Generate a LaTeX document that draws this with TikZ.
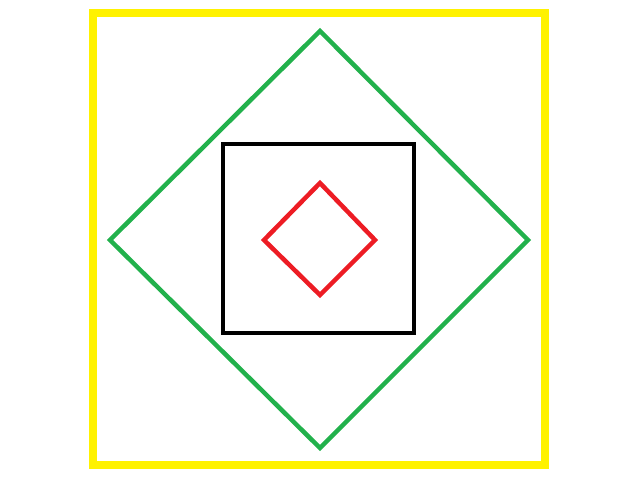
\documentclass[tikz,border=0pt]{standalone}
\usepackage{xcolor}
\usepackage{tikz}
\definecolor{FrameYellow}{HTML}{FFF200}
\definecolor{DiamondGreen}{HTML}{22B14C}
\definecolor{DiamondRed}{HTML}{ED1C24}
\tikzset{
  outer/.style={
    draw=FrameYellow,
    line width=8*0.03cm
  },
  bigdiamond/.style={
    draw=DiamondGreen,
    line width=4.5*0.03cm
  },
  inner/.style={
    draw=black,
    line width=4.5*0.03cm
  },
  smalldiamond/.style={
    draw=DiamondRed,
    line width=4.5*0.03cm
  }
}
\begin{document}
\begin{tikzpicture}[x=0.03cm,y=-0.03cm]

  \useasboundingbox (0,0) rectangle (640,480);

  \draw[outer]
  (93,13) rectangle (545,465);

  \draw[bigdiamond]
  (320,31) --
  (528,240) --
  (320,448) --
  (110,240) --
  cycle;

  \draw[inner]
  (223,144) rectangle (414,333);

  \draw[smalldiamond]
  (320,183) --
  (375,240) --
  (320,295) --
  (264,240) --
  cycle;

\end{tikzpicture}
\end{document}
